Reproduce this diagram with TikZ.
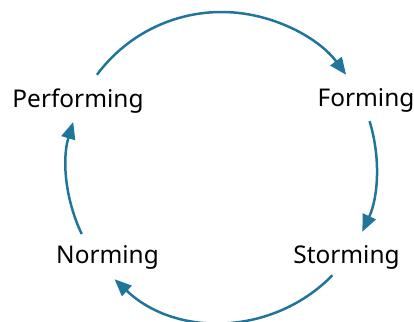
\documentclass[tikz,border=0pt]{standalone}
\usepackage{fontspec}
\setmainfont{Noto Sans}
\usetikzlibrary{arrows.meta,positioning}
\definecolor{cycleblue}{RGB}{33,117,155}

\begin{document}
\begin{tikzpicture}[x=0.5pt,y=0.5pt]
  \tikzstyle{stage}=[anchor=base,inner sep=0pt,font=\fontsize{12.2}{14}\selectfont]
  \tikzstyle{flow}=[-{Triangle[length=8.5pt,width=7pt]},line width=1.25pt,cycleblue]
  \useasboundingbox (0,0) rectangle (414,322);

  \coordinate (c) at (221.5,155);
  \node[stage] (perf) at (78,214) {Performing};
  \node[stage] (form) at (366,215) {Forming};
  \node[stage] (storm) at (346.5,58) {Storming};
  \node[stage] (norm) at (107.5,58) {Norming};

  \draw[flow] ([shift={(143.5:155)}]c) arc[start angle=143.5,end angle=36.5,radius=155];
  \draw[flow] ([shift={(17.2:155)}]c) arc[start angle=17.2,end angle=-24.7,radius=155];
  \draw[flow] ([shift={(-44.3:155)}]c) arc[start angle=-44.3,end angle=-133.6,radius=155];
  \draw[flow] ([shift={(205.6:155)}]c) arc[start angle=205.6,end angle=163.1,radius=155];
\end{tikzpicture}
\end{document}
